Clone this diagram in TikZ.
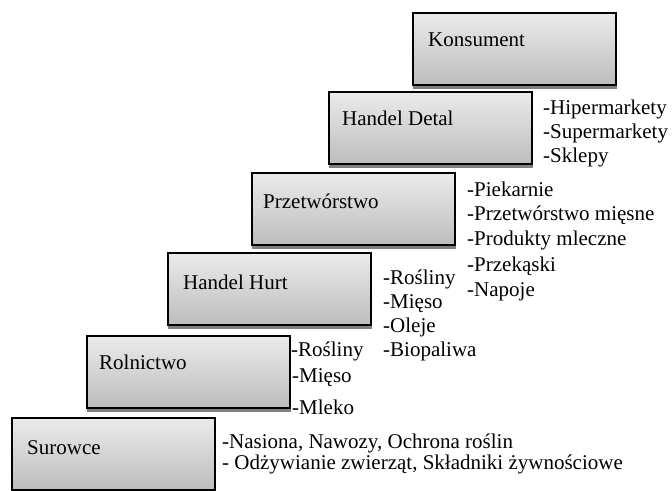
\documentclass[tikz,border=0pt]{standalone}
\usepackage{fontspec}
\setmainfont{Liberation Serif}
\begin{document}
\begin{tikzpicture}[x=1pt,y=-1pt,
  stepbox/.style={draw=black, line width=1.6pt, top color=black!8, bottom color=black!26,
    minimum width=203pt, minimum height=72pt, anchor=north west, inner sep=0pt, outer sep=0pt},
  boxlabel/.style={anchor=base west, inner sep=0pt, font=\fontsize{21}{23}\selectfont},
  item/.style={anchor=base west, inner sep=0pt, font=\fontsize{21}{23}\selectfont}]
\useasboundingbox (0,0) rectangle (672,490);
\clip (0,0) rectangle (672,490);
% boxes with shadow strips
\foreach \nm/\lx/\ty in {k/413/13, hd/329/92, p/252/173, hh/168/253, r/87/336, s/12/418}{
  \fill[black!50] (\lx,\ty+72) rectangle (\lx+204,\ty+76);
  \node[stepbox] (\nm) at (\lx,\ty) {};
}
\node[boxlabel] (kl)  at ([xshift=15pt,yshift=-33pt]k.north west) {Konsument};
\node[boxlabel] (hdl) at ([xshift=13pt,yshift=-33pt]hd.north west) {Handel Detal};
\node[boxlabel] (pl)  at ([xshift=11pt,yshift=-35pt]p.north west) {Przetwórstwo};
\node[boxlabel] (hhl) at ([xshift=15pt,yshift=-36pt]hh.north west) {Handel Hurt};
\node[boxlabel] (rl)  at ([xshift=12pt,yshift=-33pt]r.north west) {Rolnictwo};
\node[boxlabel] (sl)  at ([xshift=15pt,yshift=-36pt]s.north west) {Surowce};
% lists
\node[item] (hd1) at (543,114) {-Hipermarkety};
\node[item] (hd2) at (543,138) {-Supermarkety};
\node[item] (hd3) at (543,162) {-Sklepy};
\node[item] (p1) at (467,196) {-Piekarnie};
\node[item] (p2) at (467,220) {-Przetwórstwo mięsne};
\node[item] (p3) at (467,245) {-Produkty mleczne};
\node[item] (p4) at (467,271) {-Przekąski};
\node[item] (p5) at (467,296) {-Napoje};
\node[item] (hh1) at (383,284) {-Rośliny};
\node[item] (hh2) at (383,308) {-Mięso};
\node[item] (hh3) at (383,332) {-Oleje};
\node[item] (hh4) at (383,356) {-Biopaliwa};
\node[item] (r1) at (291,356) {-Rośliny};
\node[item] (r2) at (292,382) {-Mięso};
\node[item] (r3) at (292,414) {-Mleko};
\node[item] (s1) at (222,448) {-Nasiona, Nawozy, Ochrona roślin};
\node[item] (s2) at (222,469) {- Odżywianie zwierząt, Składniki żywnościowe};
\end{tikzpicture}
\end{document}
